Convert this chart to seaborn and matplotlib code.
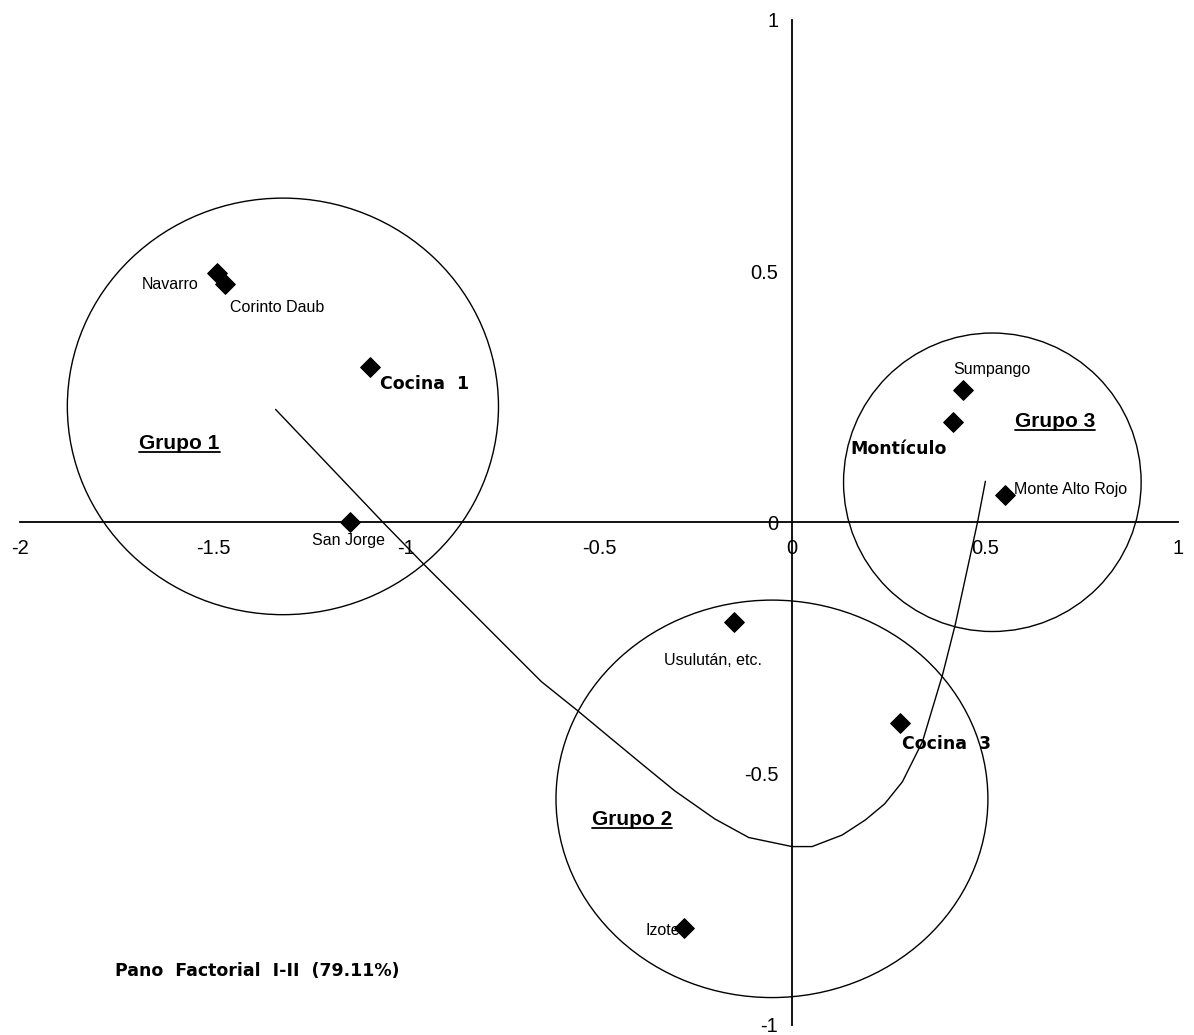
import numpy as np
import pandas as pd
import matplotlib
matplotlib.use("Agg")
import matplotlib.pyplot as plt
from matplotlib import font_manager
from matplotlib.patches import Ellipse
import seaborn as sns

# point coordinates on factorial plane I-II
labels = ["Navarro", "Corinto Daub", "Cocina 1", "San Jorge", "Usulután, etc.",
          "Cocina 3", "Izote", "Sumpango", "Montículo", "Monte Alto Rojo"]
f1 = [-1.49, -1.47, -1.094, -1.145, -0.151, 0.281, -0.281, 0.444, 0.418, 0.553]
f2 = [0.496, 0.474, 0.309, 0.0, -0.199, -0.400, -0.807, 0.263, 0.199, 0.054]

# group circles (centre x, centre y, width, height)
groups = ["Grupo 1", "Grupo 2", "Grupo 3"]
group_cx = [-1.319, -0.052, 0.519]
group_cy = [0.231, -0.550, 0.080]
group_w = [1.117, 1.119, 0.771]
group_h = [0.829, 0.791, 0.594]

# trajectory curve
path_x = [-1.338, -1.057, -0.953, -0.839, -0.735, -0.649, -0.558, -0.475, -0.390,
          -0.304, -0.200, -0.112, 0.0, 0.052, 0.130, 0.190, 0.240, 0.286, 0.338,
          0.390, 0.423, 0.481, 0.501]
path_y = [0.225, -0.002, -0.084, -0.171, -0.251, -0.317, -0.373, -0.426, -0.480,
          -0.534, -0.590, -0.627, -0.645, -0.645, -0.622, -0.592, -0.560, -0.516,
          -0.436, -0.303, -0.203, 0.002, 0.082]

x_ticks = [-2, -1.5, -1, -0.5, 0, 0.5, 1]
y_ticks = [-1, -0.5, 0, 0.5, 1]

sns.set_style("white", {"text.color": "black", "xtick.color": "black",
                        "ytick.color": "black", "axes.edgecolor": "black"})
available = {f.name for f in font_manager.fontManager.ttflist}
narrow = "Liberation Sans Narrow" if "Liberation Sans Narrow" in available else "Liberation Sans"
plt.rcParams["font.family"] = [narrow, "DejaVu Sans"]

fig = plt.figure(figsize=(11.94, 10.35), dpi=100)
ax = fig.add_axes([0.0168, 0.0097, 0.9698, 0.971])
ax.set_xlim(-2, 1)
ax.set_ylim(-1, 1)

df = pd.DataFrame({"f1": f1, "f2": f2, "label": labels})
sns.scatterplot(data=df, x="f1", y="f2", marker="D", s=100, color="black",
                edgecolor="black", ax=ax, zorder=5, legend=False)

path = pd.DataFrame({"x": path_x, "y": path_y})
sns.lineplot(data=path, x="x", y="y", sort=False, color="black", lw=1.0,
             ax=ax, estimator=None)

for cx, cy, w, h in zip(group_cx, group_cy, group_w, group_h):
    ax.add_patch(Ellipse((cx, cy), w, h, fill=False, edgecolor="black", lw=1.0))

# spines through the origin
for side in ["top", "right"]:
    ax.spines[side].set_visible(False)
ax.spines["left"].set_position(("data", 0))
ax.spines["bottom"].set_position(("data", 0))
ax.spines["left"].set_linewidth(1.3)
ax.spines["bottom"].set_linewidth(1.3)
ax.set_xticks(x_ticks)
ax.set_yticks(y_ticks)
ax.set_xticklabels(["-2", "-1.5", "-1", "-0.5", "0", "0.5", "1"])
ax.set_yticklabels(["-1", "-0.5", "0", "0.5", "1"])
ax.tick_params(axis="x", direction="in", length=6, width=1.2, labelsize=14.5, pad=12)
ax.tick_params(axis="y", direction="out", length=6, width=1.2, labelsize=14.5, pad=4)
ax.set_xlabel("")
ax.set_ylabel("")

small = dict(fontsize=11.5, color="black")
ax.text(-1.538, 0.474, "Navarro", ha="right", va="center", **small)
ax.text(-1.455, 0.428, "Corinto Daub", ha="left", va="center", **small)
ax.text(-1.148, -0.036, "San Jorge", ha="center", va="center", **small)
ax.text(-0.205, -0.275, "Usulután, etc.", ha="center", va="center", **small)
ax.text(-0.291, -0.812, "Izote", ha="right", va="center", **small)
ax.text(0.517, 0.305, "Sumpango", ha="center", va="center", **small)
ax.text(0.574, 0.066, "Monte Alto Rojo", ha="left", va="center", **small)

bold = dict(fontsize=12.5, fontweight="bold", family=["DejaVu Sans"], color="black")
ax.text(-1.068, 0.275, "Cocina  1", ha="left", va="center", **bold)
ax.text(0.286, -0.440, "Cocina  3", ha="left", va="center", **bold)
ax.text(0.151, 0.147, "Montículo", ha="left", va="center", **bold)
ax.text(-1.753, -0.892, "Pano  Factorial  I-II  (79.11%)", ha="left", va="center",
        fontsize=12.5, fontweight="bold", family=["DejaVu Sans"], color="black")

grp_pos = [(-1.691, 0.157), (-0.519, -0.592), (0.577, 0.201)]
grp_texts = []
for name, (gx, gy) in zip(groups, grp_pos):
    grp_texts.append(ax.text(gx, gy, name, ha="left", va="center", fontsize=15,
                             fontweight="bold", color="black",
                             family=[narrow, "DejaVu Sans"]))

# underline the group names
fig.canvas.draw()
renderer = fig.canvas.get_renderer()
inv = ax.transData.inverted()
for t in grp_texts:
    bb = t.get_window_extent(renderer)
    (x0, y0), (x1, _) = inv.transform([(bb.x0, bb.y0 + 1), (bb.x1, bb.y0 + 1)])
    ax.plot([x0, x1], [y0, y0], color="black", lw=1.3)

fig.savefig("out.png", dpi=100)
